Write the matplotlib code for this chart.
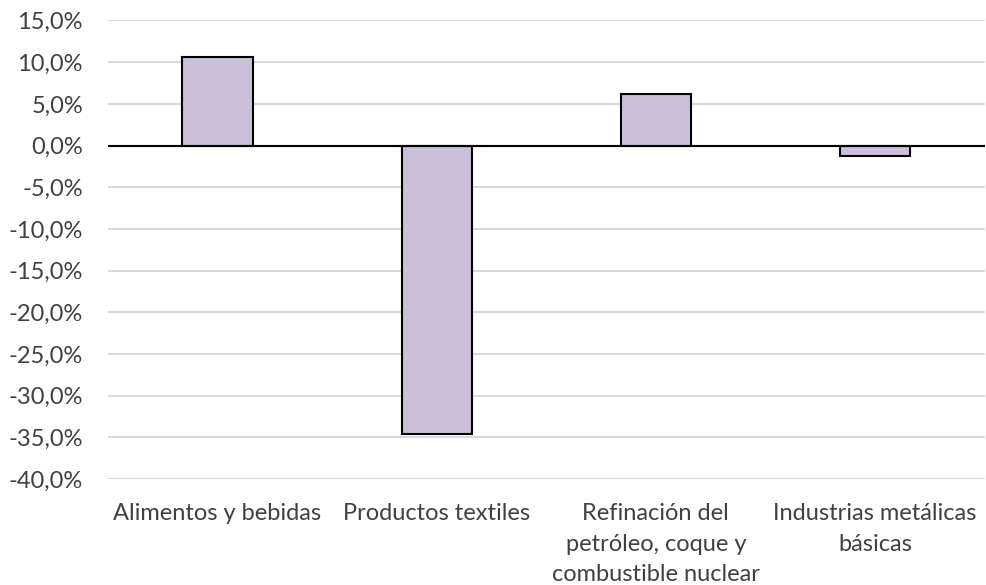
import matplotlib
matplotlib.use("Agg")
import matplotlib.pyplot as plt
from matplotlib.ticker import FuncFormatter, MultipleLocator

plt.rcParams.update({
    "font.family": ["Lato", "DejaVu Sans"],
    "font.size": 17,
})

categories = ["Alimentos y bebidas", "Productos textiles",
              "Refinación del\npetróleo, coque y\ncombustible nuclear",
              "Industrias metálicas\nbásicas"]
values = [10.6, -34.6, 6.2, -1.3]

TXT = "#404040"
BAR = "#CBC0DA"
GRID = "#D9D9D9"

fig = plt.figure(figsize=(9.86, 5.85), dpi=100)
ax = fig.add_axes([0.1095, 0.181, 0.889, 0.784])

x = range(len(categories))
ax.bar(x, values, width=0.32, color=BAR, edgecolor="black", linewidth=1.5, zorder=3)
ax.axhline(0, color="black", lw=1.5, zorder=4)

ax.set_ylim(-40, 15)
ax.set_xlim(-0.5, len(categories) - 0.5)
ax.yaxis.set_major_locator(MultipleLocator(5))
ax.yaxis.set_major_formatter(FuncFormatter(lambda v, p: f"{v:.1f}%".replace(".", ",")))
ax.grid(axis="y", color=GRID, lw=1.5, zorder=0)

for s in ax.spines.values():
    s.set_visible(False)
ax.tick_params(axis="both", length=0, colors=TXT, labelsize=17)
ax.tick_params(axis="y", pad=18)
ax.tick_params(axis="x", pad=17)
ax.set_xticks(list(x))
ax.set_xticklabels(categories, linespacing=1.58)

fig.savefig("out.png", dpi=100, facecolor="white")
